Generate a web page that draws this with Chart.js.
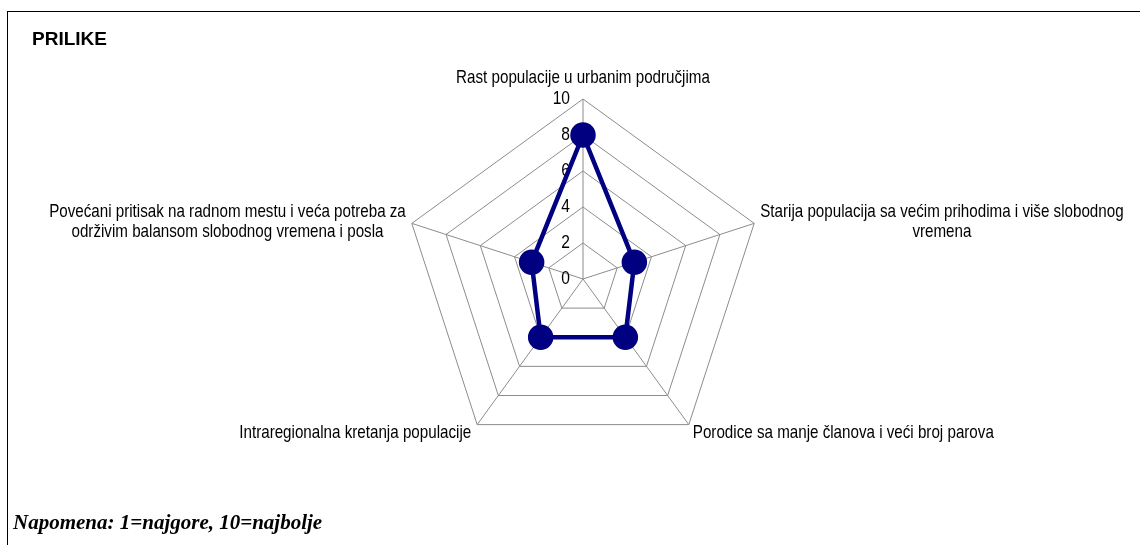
<!DOCTYPE html>
<html>
<head>
<meta charset="utf-8">
<script src="https://cdn.jsdelivr.net/npm/chart.js@4.4.1/dist/chart.umd.min.js"></script>
<style>
  html, body { margin: 0; padding: 0; background: #fff; }
  #wrap { position: relative; width: 1140px; height: 545px; overflow: hidden; }
  #frame { position: absolute; left: 7px; top: 11px; width: 1140px; height: 600px;
           border-top: 1px solid #000; border-left: 1px solid #000; }
  #title { position: absolute; left: 32px; top: 28px; font: bold 19px "Liberation Sans", Arial, sans-serif; color: #000; }
  #note { position: absolute; left: 13px; top: 510px; font: italic bold 21px "Liberation Serif", "Times New Roman", serif; color: #000; }
  canvas { position: absolute; left: 0; top: 0; }
</style>
</head>
<body>
<div id="wrap">
  <div id="frame"></div>
  <canvas id="radar" width="1140" height="545"></canvas>
  <div id="title">PRILIKE</div>
  <div id="note">Napomena: 1=najgore, 10=najbolje</div>
</div>
<script>
// Data
const categories = [
    ['Rast populacije u urbanim područjima'],
    ['Starija populacija sa većim prihodima i više slobodnog', 'vremena'],
    ['Porodice sa manje članova i veći broj parova'],
    ['Intraregionalna kretanja populacije'],
    ['Povećani pritisak na radnom mestu i veća potreba za', 'održivim balansom slobodnog vremena i posla']
];
const values = [8, 3, 4, 4, 3];
const tickValues = [0, 2, 4, 6, 8, 10];

const NAVY = '#000080';
const GRID = '#8c8c8c';
const NARROW = 0.82; // squeeze Liberation Sans to look like Arial Narrow
const LABEL_FONT = '18.5px "Liberation Sans", Arial, sans-serif';
const TICK_FONT = '19px "Liberation Sans", Arial, sans-serif';

function narrowText(ctx, text, x, y) {
    ctx.save();
    ctx.translate(x, y);
    ctx.scale(NARROW, 1);
    ctx.fillText(text, 0, 0);
    ctx.restore();
}

// Draws tick numbers and point labels off the radial scale
const labelPlugin = {
    id: 'radarLabels',
    beforeDatasetsDraw(chart) {
        const scale = chart.scales.r;
        const ctx = chart.ctx;
        ctx.save();
        ctx.fillStyle = '#000';

        // tick labels, left of the vertical axis
        ctx.font = TICK_FONT;
        ctx.textAlign = 'right';
        ctx.textBaseline = 'middle';
        tickValues.forEach(v => {
            const d = scale.getDistanceFromCenterForValue(v);
            narrowText(ctx, String(v), scale.xCenter - 13, scale.yCenter - d);
        });

        // point labels
        ctx.font = LABEL_FONT;
        ctx.textBaseline = 'middle';
        ctx.textAlign = 'center';
        const lineH = 20;
        categories.forEach((lines, i) => {
            const p = scale.getPointPosition(i, scale.drawingArea);
            const w = Math.max(...lines.map(l => ctx.measureText(l).width)) * NARROW;
            let left, cy;
            const dx = p.x - scale.xCenter;
            const dy = p.y - scale.yCenter;
            if (Math.abs(dx) < 1) {
                left = p.x - w / 2;
                cy = p.y - 21;
            } else if (dy < 0) {
                left = dx > 0 ? p.x + 6 : p.x - 6 - w;
                cy = p.y - 11;
            } else {
                left = dx > 0 ? p.x + 4 : p.x - 6 - w;
                cy = p.y + 8;
            }
            lines.forEach((l, k) => {
                narrowText(ctx, l, left + w / 2, cy + k * lineH);
            });
        });
        ctx.restore();
    }
};

new Chart(document.getElementById('radar'), {
    type: 'radar',
    data: {
        labels: categories,
        datasets: [{
            data: values,
            borderColor: NAVY,
            borderWidth: 4.5,
            backgroundColor: NAVY,
            pointBackgroundColor: NAVY,
            pointBorderColor: NAVY,
            pointRadius: 10.5,
            fill: false,
            tension: 0
        }]
    },
    options: {
        responsive: false,
        devicePixelRatio: 1,
        animation: false,
        layout: { padding: { left: 403, right: 377, top: 99, bottom: 86 } },
        plugins: {
            legend: { display: false },
            tooltip: { enabled: false }
        },
        scales: {
            r: {
                min: 0,
                max: 10,
                ticks: { stepSize: 2, display: false },
                grid: { color: GRID, lineWidth: 1 },
                angleLines: { color: GRID, lineWidth: 1 },
                pointLabels: { display: false }
            }
        }
    },
    plugins: [labelPlugin]
});
</script>
</body>
</html>
